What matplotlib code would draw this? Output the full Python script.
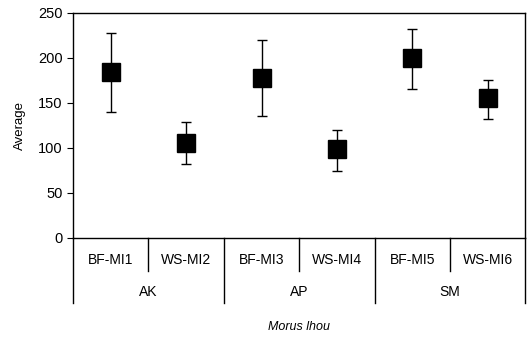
import numpy as np
import matplotlib
matplotlib.use("Agg")
from matplotlib import pyplot as plt
import matplotlib.transforms as mtransforms

plt.rcParams['font.family'] = ['Liberation Sans', 'DejaVu Sans']

samples = ['BF-MI1', 'WS-MI2', 'BF-MI3', 'WS-MI4', 'BF-MI5', 'WS-MI6']
groups = ['AK', 'AP', 'SM']
means = [184, 105, 178, 99, 200, 156]
err_low = [44, 23, 43, 25, 34, 24]
err_high = [44, 24, 42, 21, 32, 20]

fig = plt.figure(figsize=(5.3, 3.39), dpi=100)
ax = fig.add_axes([0.138, 0.298, 0.853, 0.664])

x = np.arange(len(samples))
ax.errorbar(x, means, yerr=[err_low, err_high], fmt='s', color='black',
            ms=12.5, ecolor='black', elinewidth=1, capsize=3.5, capthick=1)

ax.set_xlim(-0.5, len(samples) - 0.5)
ax.set_ylim(0, 250)
ax.set_yticks(range(0, 251, 50))
ax.tick_params(axis='y', labelsize=10.5, length=4, direction='out')
ax.set_xticks([])
ax.set_ylabel('Average', fontsize=9.5, labelpad=9)
for s in ax.spines.values():
    s.set_linewidth(1)

trans = mtransforms.blended_transform_factory(ax.transData, ax.transAxes)
# sample-level labels and dividers
for i, name in enumerate(samples):
    ax.text(i, -0.1, name, transform=trans, ha='center', va='center', fontsize=10)
for b in [0.5, 2.5, 4.5]:
    ax.plot([b, b], [0, -0.145], transform=trans, color='black', lw=1, clip_on=False)
# group labels and dividers
for j, g in enumerate(groups):
    ax.text(2 * j + 0.5, -0.24, g, transform=trans, ha='center', va='center', fontsize=10)
for b in [-0.5, 1.5, 3.5, 5.5]:
    ax.plot([b, b], [0, -0.29], transform=trans, color='black', lw=1, clip_on=False)

ax.text(2.5, -0.395, 'Morus lhou', transform=trans, ha='center', va='center',
        fontsize=9, style='italic')

fig.savefig('out.png', dpi=100)
